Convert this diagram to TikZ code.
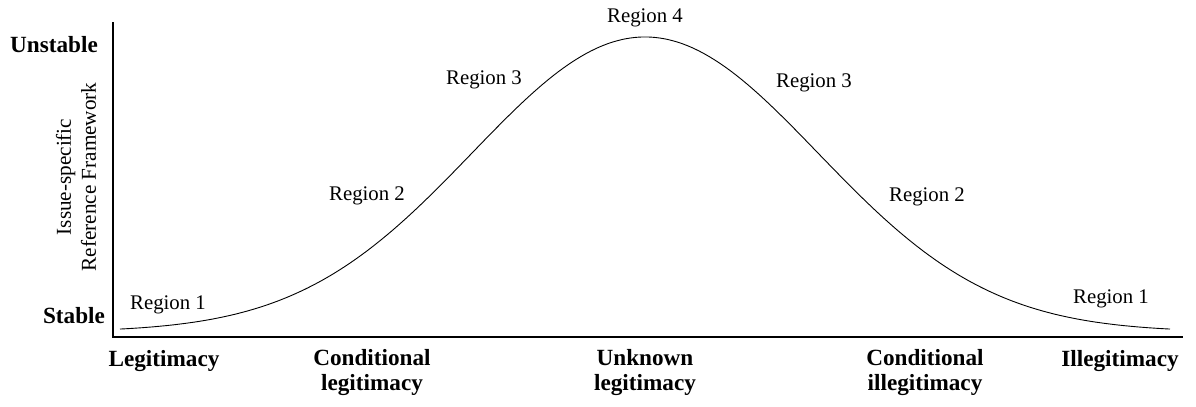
\documentclass[tikz,border=0pt]{standalone}
\usepackage{fontspec}
\setmainfont{Liberation Serif}
\begin{document}
\begin{tikzpicture}[x=0.5pt,y=-0.5pt,
  region/.style={font=\fontsize{10.4}{12}\selectfont, inner sep=0pt},
  axislab/.style={font=\fontsize{11.6}{12.5}\selectfont\bfseries, inner sep=0pt, align=center},
  axisline/.style={line width=1pt},
  curveline/.style={line width=0.45pt}]
\useasboundingbox (0,0) rectangle (1196,407);
\coordinate (ytop) at (113,22);
\coordinate (orig) at (113,337);
\coordinate (xend) at (1183,337);
\draw[axisline] (ytop) -- (orig) -- (xend);
\draw[curveline] plot[domain=120:1170, samples=240]
  (\x, {332-295*exp(-0.5*((\x-645)/173)^2)});
% y-axis labels
\node[axislab] (unst) at (54,45) {Unstable};
\node[axislab] (stab) at (74,316) {Stable};
\node[font=\fontsize{10.6}{12.5}\selectfont, align=center, rotate=90, inner sep=0pt] (ylab) at (76,177) {Issue-specific\\Reference Framework};
% x-axis labels
\node[axislab] (l1) at (164,361) {Legitimacy};
\node[axislab] (l2) at (372,373) {Conditional\\legitimacy};
\node[axislab] (l3) at (645,373) {Unknown\\legitimacy};
\node[axislab] (l4) at (925,373) {Conditional\\illegitimacy};
\node[axislab] (l5) at (1120,361) {Illegitimacy};
% region labels
\node[region] (r1a) at (168,305) {Region 1};
\node[region] (r2a) at (367,196) {Region 2};
\node[region] (r3a) at (484,80) {Region 3};
\node[region] (r4) at (645,18) {Region 4};
\node[region] (r3b) at (814,83) {Region 3};
\node[region] (r2b) at (927,197) {Region 2};
\node[region] (r1b) at (1111,299) {Region 1};
\end{tikzpicture}
\end{document}
